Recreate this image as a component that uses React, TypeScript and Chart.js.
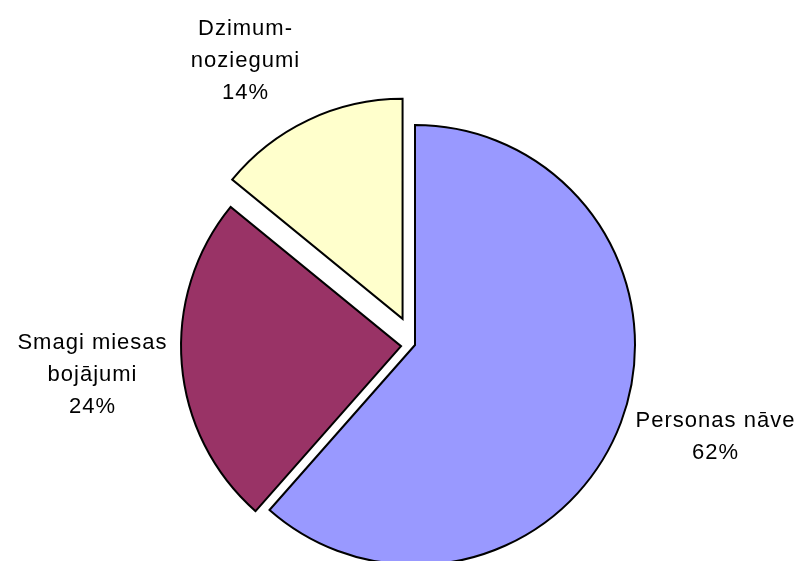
import React, { useEffect, useRef } from "react";
import { Chart, registerables } from "chart.js";

Chart.register(...registerables);

const categories = ["Personas nāve", "Smagi miesas bojājumi", "Dzimumnoziegumi"];
const values = [61.5, 24.4, 14.1];
const labelLines = [
  ["Personas nāve", "62%"],
  ["Smagi miesas", "bojājumi", "24%"],
  ["Dzimum-", "noziegumi", "14%"],
];
const colors = ["#9999FF", "#993366", "#FFFFCC"];

// style constants
const EXPLODE = [0, 14, 29];
const LABEL_POS = [
  { x: 715, y: 421 },
  { x: 92, y: 343 },
  { x: 245, y: 29 },
];
const LINE_H = 32;

const explodePlugin = {
  id: "explode",
  beforeDatasetDraw(chart: any, args: any) {
    const ctx = chart.ctx;
    const meta = args.meta;
    meta.data.forEach((el: any, i: number) => {
      const mid = (el.startAngle + el.endAngle) / 2;
      const d = EXPLODE[i] || 0;
      ctx.save();
      ctx.translate(Math.cos(mid) * d, Math.sin(mid) * d);
      el.draw(ctx, chart.chartArea);
      ctx.restore();
    });
    return false;
  },
  afterDraw(chart: any) {
    const ctx = chart.ctx;
    ctx.save();
    ctx.fillStyle = "#000";
    ctx.font = '22px "Liberation Sans", Arial, sans-serif';
    ctx.textBaseline = "middle";
    ctx.textAlign = "left";
    const ls = 1;
    try { (ctx as any).letterSpacing = ls + "px"; } catch (e) {}
    labelLines.forEach((lines, i) => {
      const p = LABEL_POS[i];
      lines.forEach((t, j) => {
        const w = ctx.measureText(t).width - ls;
        ctx.fillText(t, p.x - w / 2, p.y + j * LINE_H);
      });
    });
    ctx.restore();
  },
};

export default function App() {
  const ref = useRef<HTMLCanvasElement>(null);
  useEffect(() => {
    if (!ref.current) return;
    const chart = new Chart(ref.current, {
      type: "pie",
      data: {
        labels: categories,
        datasets: [
          {
            data: values,
            backgroundColor: colors,
            borderColor: "#000",
            borderWidth: 2,
            borderJoinStyle: "miter",
          } as any,
        ],
      },
      options: {
        animation: false,
        responsive: false,
        maintainAspectRatio: false,
        layout: { padding: { top: 124, bottom: 34, left: 194, right: 165 } },
        plugins: { legend: { display: false }, tooltip: { enabled: false } },
      },
      plugins: [explodePlugin],
    });
    return () => chart.destroy();
  }, []);
  return (
    <div style={{ position: "fixed", left: 0, top: 0, width: 801, height: 561, overflow: "hidden", background: "#fff" }}>
      <canvas ref={ref} width={801} height={600} style={{ display: "block", width: 801, height: 600 }} />
    </div>
  );
}
